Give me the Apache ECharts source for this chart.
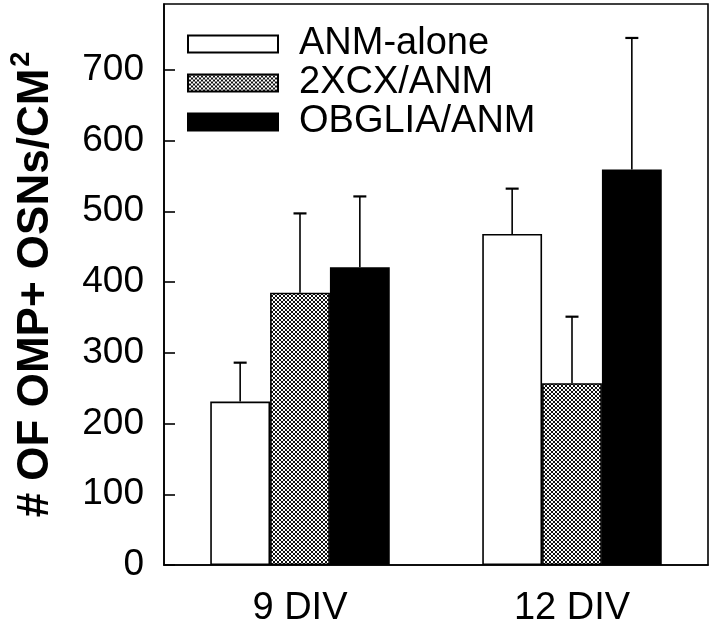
<!DOCTYPE html>
<html>
<head>
<meta charset="utf-8">
<script src="https://cdn.jsdelivr.net/npm/echarts@6/dist/echarts.min.js"></script>
<style>html,body{margin:0;padding:0;background:#fff}#c{width:720px;height:628px}</style>
</head>
<body>
<div id="c"></div>
<script>
// ---- data ----
var categories = ['9 DIV', '12 DIV'];
var seriesNames = ['ANM-alone', '2XCX/ANM', 'OBGLIA/ANM'];
var anmAlone = [231, 468];
var cx2Anm = [385, 257];
var obgliaAnm = [421, 559];
var anmAloneErr = [55, 64];
var cx2AnmErr = [112, 94];
var obgliaAnmErr = [100, 186];
var yTicks = [0, 100, 200, 300, 400, 500, 600, 700];

var FONT = '"Liberation Sans", Arial, Helvetica, sans-serif';

// crosshatch pattern (diagonal mesh)
var pc = document.createElement('canvas');
pc.width = 4; pc.height = 4;
var g = pc.getContext('2d');
g.fillStyle = '#ffffff'; g.fillRect(0, 0, 4, 4);
g.fillStyle = '#111111';
[[0,0],[3,0],[1,1],[2,1],[1,2],[2,2],[0,3],[3,3]].forEach(function (p) { g.fillRect(p[0], p[1], 1, 1); });
var hatch = { image: pc, repeat: 'repeat' };

var values = [anmAlone, cx2Anm, obgliaAnm];
var errs = [anmAloneErr, cx2AnmErr, obgliaAnmErr];
var fills = ['#ffffff', hatch, '#000000'];
var BAR_FRAC = 0.22;

var series = [];
seriesNames.forEach(function (name, i) {
  series.push({
    name: name,
    type: 'bar',
    data: values[i],
    barWidth: (BAR_FRAC * 100) + '%',
    barGap: '0%',
    itemStyle: { color: fills[i], borderColor: '#000', borderWidth: 1.6 },
    emphasis: { disabled: true },
    z: 2
  });
});
seriesNames.forEach(function (name, i) {
  series.push({
    type: 'custom',
    name: name + ' err',
    data: values[i].map(function (v, j) { return [j, v, v + errs[i][j]]; }),
    z: 1,
    renderItem: function (params, api) {
      var c = api.value(0);
      var lo = api.coord([c, api.value(1)]);
      var hi = api.coord([c, api.value(2)]);
      var band = api.size([1, 0])[0];
      var bw = band * BAR_FRAC;
      var x = lo[0] + (i - 1) * bw;
      var capHalf = 6.5;
      return {
        type: 'group',
        children: [
          { type: 'line', shape: { x1: x, y1: lo[1], x2: x, y2: hi[1] }, style: { stroke: '#000', lineWidth: 1.6 } },
          { type: 'line', shape: { x1: x - capHalf, y1: hi[1], x2: x + capHalf, y2: hi[1] }, style: { stroke: '#000', lineWidth: 2.2 } }
        ]
      };
    }
  });
});

var chart = echarts.init(document.getElementById('c'), null, { renderer: 'canvas' });
chart.setOption({
  animation: false,
  backgroundColor: '#fff',
  textStyle: { fontFamily: FONT },
  grid: {
    left: 161, right: 12, top: 4, bottom: 61,
    show: true, borderColor: '#000', borderWidth: 1.6, backgroundColor: 'transparent',
    containLabel: false
  },
  legend: {
    orient: 'vertical',
    left: 187, top: 25,
    padding: 0,
    itemWidth: 90, itemHeight: 17,
    itemGap: 1,
    data: seriesNames,
    selectedMode: false,
    textStyle: { fontSize: 38, fontFamily: FONT, color: '#000', lineHeight: 34, padding: [0, 0, 0, 16] },
    icon: 'rect'
  },
  xAxis: {
    type: 'category',
    data: categories,
    axisLine: { show: true, lineStyle: { color: '#000', width: 1.6 } },
    axisTick: { show: false },
    axisLabel: { fontSize: 38, color: '#000', fontFamily: FONT, margin: 25 }
  },
  yAxis: {
    type: 'value',
    min: yTicks[0],
    max: 793,
    interval: yTicks[1] - yTicks[0],
    splitLine: { show: false },
    axisLine: { show: true, lineStyle: { color: '#000', width: 1.6 } },
    axisTick: { show: true, inside: true, length: 11, lineStyle: { color: '#000', width: 1.6 } },
    axisLabel: {
      fontSize: 37, color: '#000', fontFamily: FONT, margin: 20, showMaxLabel: false,
      formatter: function (v) { return yTicks.indexOf(v) >= 0 ? String(v) : ''; }
    },
    name: '{t|# OF OMP+ OSNs/CM}{sup|2}',
    nameLocation: 'middle',
    nameRotate: 90,
    nameGap: 106,
    nameTextStyle: {
      fontSize: 44, fontWeight: 'bold', color: '#000', fontFamily: FONT,
      rich: {
        t: { fontSize: 44, fontWeight: 'bold', color: '#000', fontFamily: FONT, lineHeight: 50, verticalAlign: 'bottom' },
        sup: { fontSize: 27, fontWeight: 'bold', color: '#000', fontFamily: FONT, lineHeight: 50, verticalAlign: 'top', padding: [0, 0, 0, 2] }
      }
    }
  },
  series: series
});
</script>
</body>
</html>
